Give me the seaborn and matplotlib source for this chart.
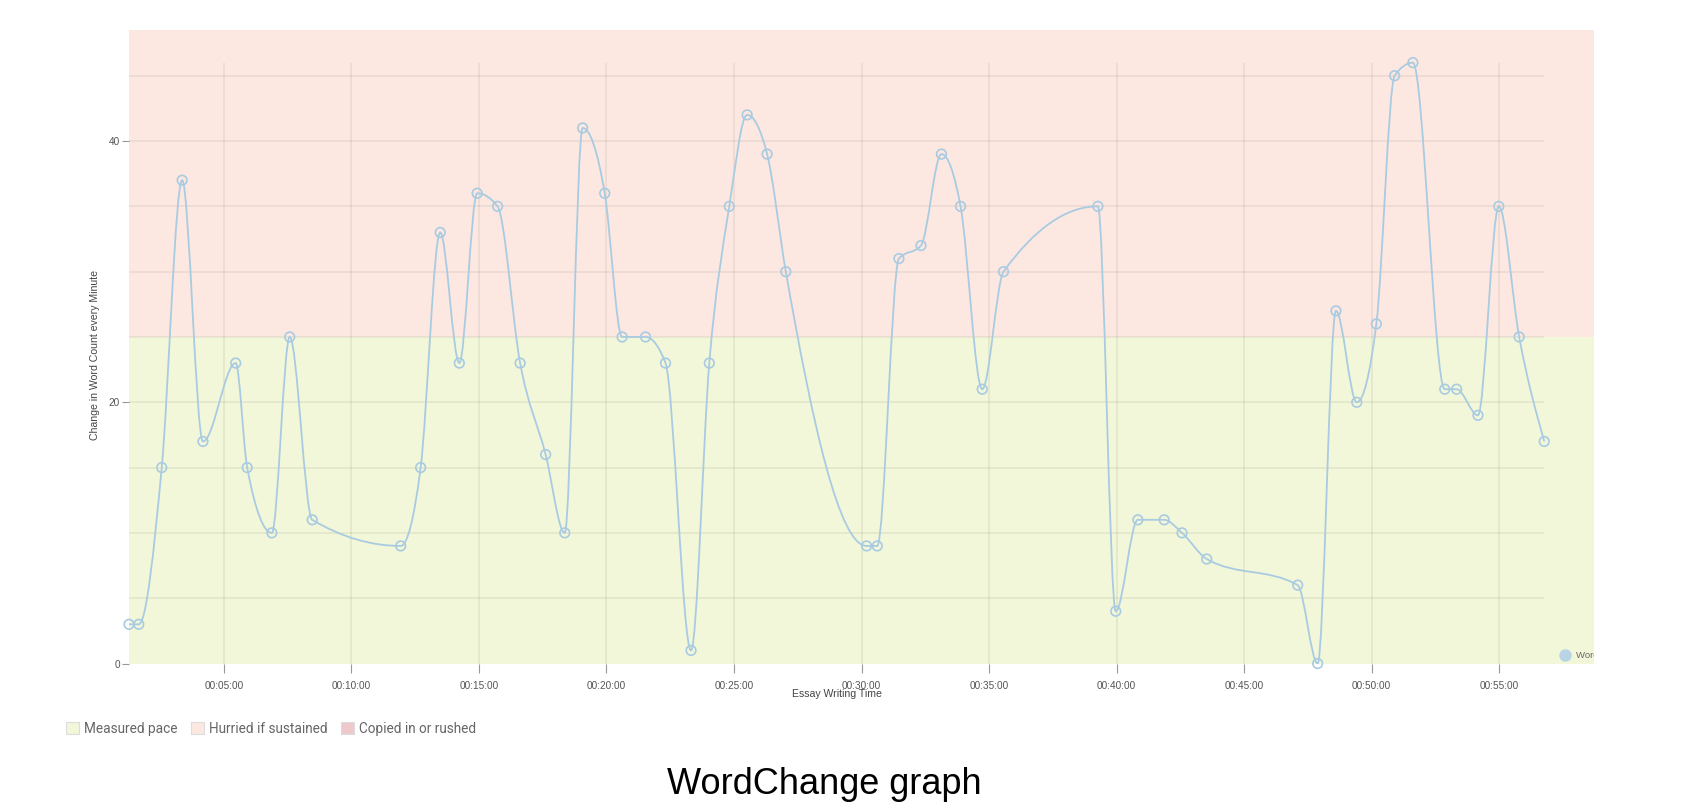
import numpy as np
import pandas as pd
import seaborn as sns
import matplotlib.pyplot as plt
from matplotlib.path import Path
from matplotlib.patches import PathPatch, Patch

# word change per minute, sampled at essay time (seconds)
seconds = [77, 100, 154, 202, 251, 328, 355, 413, 455, 508,
           716, 763, 809, 854, 896, 944, 997, 1057, 1102, 1144,
           1196, 1237, 1292, 1339, 1399, 1442, 1489, 1531, 1578, 1622,
           1812, 1837, 1888, 1940, 1988, 2033, 2084, 2134, 2356, 2398,
           2450, 2512, 2554, 2612, 2826, 2873, 2916, 2965, 3011, 3054,
           3097, 3172, 3200, 3250, 3299, 3347, 3406]
word_change = [3, 3, 15, 37, 17, 23, 15, 10, 25, 11,
               9, 15, 33, 23, 36, 35, 23, 16, 10, 41,
               36, 25, 25, 23, 1, 23, 35, 42, 39, 30,
               9, 9, 31, 32, 39, 35, 21, 30, 35, 4,
               11, 11, 10, 8, 6, 0, 27, 20, 26, 45,
               46, 21, 21, 19, 35, 25, 17]
x_tick_labels = ["00:05:00", "00:10:00", "00:15:00", "00:20:00", "00:25:00", "00:30:00",
                 "00:35:00", "00:40:00", "00:45:00", "00:50:00", "00:55:00"]
y_tick_values = [0, 20, 40]
band_names = ["Measured pace", "Hurried if sustained", "Copied in or rushed"]
band_edges = [0, 25, 50, 100]
band_colors = ["#F2F7D9", "#FCE8E1", "#EEC9CC"]
series_name = "Word Change"

line_color = "#A9CBE2"


def hms_to_sec(s):
    h, m, sec = s.split(":")
    return int(h) * 3600 + int(m) * 60 + int(sec)


def monotone_path(x, y):
    # monotone-x cubic (same rule as d3 curveMonotoneX) as bezier path
    x = np.asarray(x, float)
    y = np.asarray(y, float)
    n = len(x)
    h = np.diff(x)
    s = np.diff(y) / h
    t = np.zeros(n)
    for i in range(1, n - 1):
        p = (s[i - 1] * h[i] + s[i] * h[i - 1]) / (h[i - 1] + h[i])
        t[i] = (np.sign(s[i - 1]) + np.sign(s[i])) * min(abs(s[i - 1]), abs(s[i]), 0.5 * abs(p))
    t[0] = (3 * s[0] - t[1]) / 2
    t[-1] = (3 * s[-1] - t[-2]) / 2
    verts = [(x[0], y[0])]
    codes = [Path.MOVETO]
    for i in range(n - 1):
        d = h[i] / 3
        verts += [(x[i] + d, y[i] + d * t[i]), (x[i + 1] - d, y[i + 1] - d * t[i + 1]), (x[i + 1], y[i + 1])]
        codes += [Path.CURVE4] * 3
    return Path(verts, codes)


df = pd.DataFrame({"seconds": seconds, "change": word_change})

sns.set_theme(style="white")
plt.rcParams['font.family'] = ['Liberation Sans', 'DejaVu Sans']

W, H = 1686, 811
fig = plt.figure(figsize=(W / 100, H / 100), dpi=100)
ax = fig.add_axes([129 / W, 1 - 663.5 / H, (1594 - 129) / W, (663.5 - 30) / H])

x_min, x_max = df["seconds"].min(), df["seconds"].max()
y_max = df["change"].max()
ax.set_xlim(x_min, x_max + 117)
ax.set_ylim(0, y_max + 2.5)

# pace bands
for lo, hi, c in zip(band_edges[:-1], band_edges[1:], band_colors):
    ax.axhspan(lo, hi, color=c, zorder=0, lw=0)

# grid only over the data range
tick_pos = [hms_to_sec(t) for t in x_tick_labels]
ax.hlines(np.arange(5, y_max, 5), x_min, x_max, color="#000000", alpha=0.07, lw=1.1, zorder=1)
ax.vlines(tick_pos, 0, y_max, color="#000000", alpha=0.07, lw=1.1, zorder=1)

ax.add_patch(PathPatch(monotone_path(df["seconds"], df["change"]), facecolor="none",
                       edgecolor=line_color, lw=1.3, zorder=3))
sns.scatterplot(data=df, x="seconds", y="change", ax=ax, s=48, facecolor="none",
                edgecolor=line_color, linewidth=1.2, zorder=4, legend=False, clip_on=False)

ax.set_xticks(tick_pos, x_tick_labels)
ax.set_yticks(y_tick_values)
for sp in ax.spines.values():
    sp.set_visible(False)
ax.tick_params(axis="x", bottom=True, direction="out", length=6.5, width=0.8, color="#999999",
               pad=6.3, labelsize=7.2, labelcolor="#555555")
ax.tick_params(axis="y", left=True, direction="out", length=5, width=0.8, color="#999999",
               pad=1.5, labelsize=7.2, labelcolor="#555555")

ax.set_xlabel("Essay Writing Time", fontsize=7.6, color="#444444")
ax.set_ylabel("Change in Word Count every Minute", fontsize=7.6, color="#444444")
ax.xaxis.set_label_coords(0.4833, -0.040)
ax.yaxis.set_label_coords(-0.020, 0.487)

# series legend, cut off by the plot edge as in the source
ax.scatter([0.980], [0.0134], transform=ax.transAxes, s=64, color="#B9D4E6", clip_on=False, zorder=5)
ax.text(0.988, 0.0134, series_name, transform=ax.transAxes, va="center", ha="left",
        fontsize=6.8, color="#666666", clip_on=True, zorder=5)

handles = [Patch(facecolor=c, edgecolor="#dcdcdc", lw=0.8, label=n) for n, c in zip(band_names, band_colors)]
fig.legend(handles=handles, loc="center left", bbox_to_anchor=(66 / W, 1 - 729 / H), ncol=3,
           frameon=False, prop={"family": "Roboto", "size": 9.8}, labelcolor="#666666",
           handlelength=0.95, handleheight=0.95, handletextpad=0.37, columnspacing=1.0,
           borderpad=0, borderaxespad=0)

fig.text(824 / W, 1 - 785 / H, "WordChange graph", ha="center", va="center", fontsize=26, color="black")

fig.savefig("out.png", dpi=100)
